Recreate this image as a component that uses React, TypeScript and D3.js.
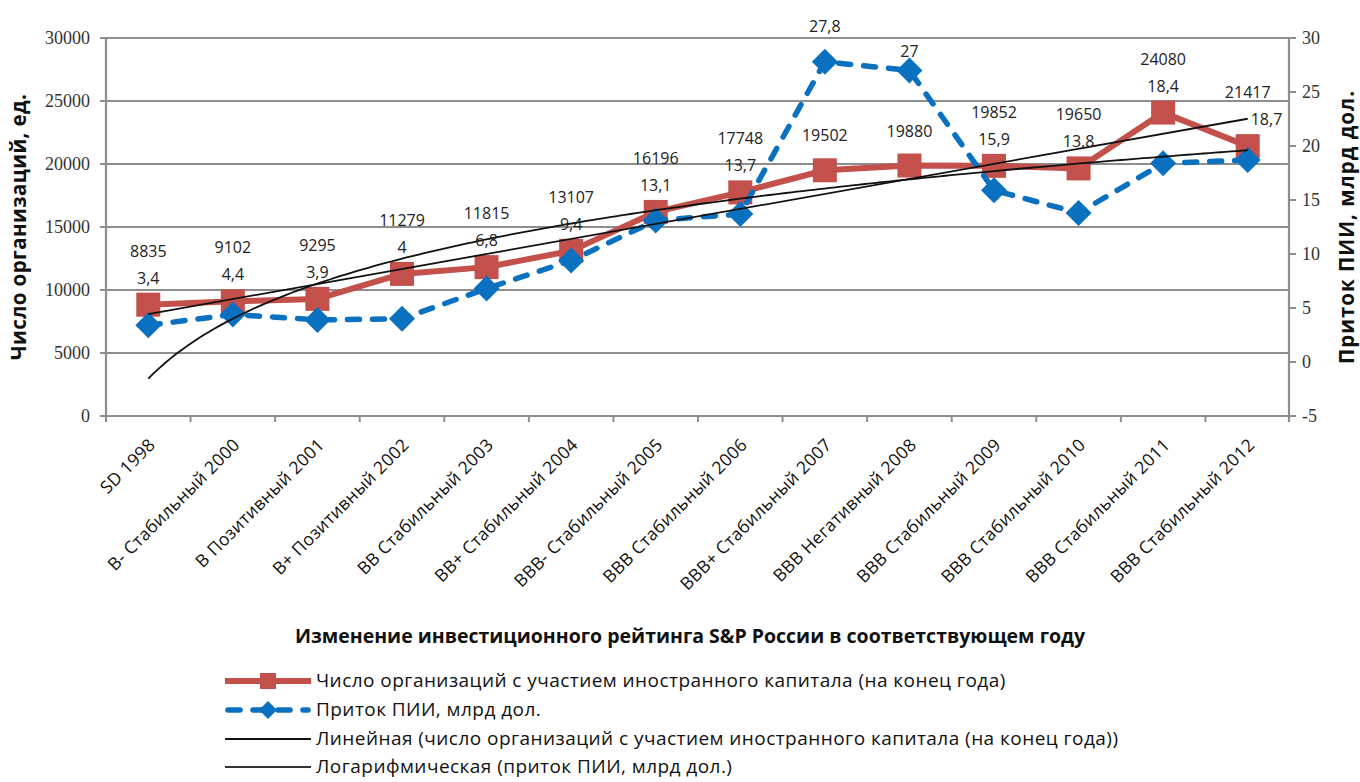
import React, { useMemo } from "react";
import * as d3 from "d3";

// Ratings of Russia by S&P (with year) on the category axis
const categories = [
  "SD 1998",
  "B- Стабильный 2000",
  "B Позитивный 2001",
  "B+ Позитивный 2002",
  "BB Стабильный 2003",
  "BB+ Стабильный 2004",
  "BBB- Стабильный 2005",
  "BBB Стабильный 2006",
  "BBB+ Стабильный 2007",
  "BBB Негативный 2008",
  "BBB Стабильный 2009",
  "BBB Стабильный 2010",
  "BBB Стабильный 2011",
  "BBB Стабильный 2012",
];

// Organizations with foreign capital at year end, units (left axis)
const organizations = [8835, 9102, 9295, 11279, 11815, 13107, 16196, 17748, 19502, 19880, 19852, 19650, 24080, 21417];

// FDI inflow, bn USD (right axis)
const fdiInflow = [3.4, 4.4, 3.9, 4, 6.8, 9.4, 13.1, 13.7, 27.8, 27, 15.9, 13.8, 18.4, 18.7];

const leftTicks = [0, 5000, 10000, 15000, 20000, 25000, 30000];
const rightTicks = [-5, 0, 5, 10, 15, 20, 25, 30];

const xTitle = "Изменение инвестиционного рейтинга S&P России в соответствующем году";
const leftTitle = "Число организаций, ед.";
const rightTitle = "Приток  ПИИ, млрд дол.";

const legendLabels = [
  "Число организаций с участием иностранного капитала (на конец года)",
  "Приток ПИИ, млрд дол.",
  "Линейная (число организаций с участием иностранного капитала (на конец года))",
  "Логарифмическая (приток ПИИ, млрд дол.)",
];

const W = 1360;
const H = 782;
const M = { left: 106, right: 1290, top: 38, bottom: 416 };

const RED = "#c4504b";
const BLUE = "#0a70c0";
const GRID = "#8e8e8e";
const SANS = "'Open Sans', 'Noto Sans', sans-serif";
const SERIF = "'Liberation Serif', 'DejaVu Serif', serif";

const fmtComma = (v: number) => String(v).replace(".", ",");

// ordinary least squares y = a + b*t
function ols(ts: number[], ys: number[]) {
  const mt = d3.mean(ts)!;
  const my = d3.mean(ys)!;
  let sxy = 0;
  let sxx = 0;
  ts.forEach((t, i) => {
    sxy += (t - mt) * (ys[i] - my);
    sxx += (t - mt) * (t - mt);
  });
  const b = sxy / sxx;
  return { a: my - b * mt, b };
}

export default function App() {
  const x = useMemo(
    () => d3.scaleBand<string>().domain(categories).range([M.left, M.right]).paddingInner(0).paddingOuter(0),
    []
  );
  const yL = useMemo(() => d3.scaleLinear().domain([0, 30000]).range([M.bottom, M.top]), []);
  const yR = useMemo(() => d3.scaleLinear().domain([-5, 30]).range([M.bottom, M.top]), []);
  const bw = x.bandwidth();
  const cx = (i: number) => x(categories[i])! + bw / 2;
  // position of category index t (1-based, fractional allowed)
  const tx = d3.scaleLinear().domain([1, categories.length]).range([cx(0), cx(categories.length - 1)]);

  const idx = categories.map((_, i) => i + 1);
  const lin = ols(idx, organizations);
  const lg = ols(idx.map((t) => Math.log(t)), fdiInflow);

  const redLine = d3
    .line<number>()
    .x((_, i) => cx(i))
    .y((d) => yL(d))(organizations)!;
  const blueLine = d3
    .line<number>()
    .x((_, i) => cx(i))
    .y((d) => yR(d))(fdiInflow)!;

  const linTrend = d3
    .line<number>()
    .x((t) => tx(t))
    .y((t) => yL(lin.a + lin.b * t))([1, categories.length])!;
  const logSamples = d3.range(0, 201).map((k) => 1 + (k / 200) * (categories.length - 1));
  const logTrend = d3
    .line<number>()
    .x((t) => tx(t))
    .y((t) => yR(lg.a + lg.b * Math.log(t)))(logSamples)!;

  const sq = 24;
  const dm = 13;
  const diamond = (px: number, py: number, r: number) =>
    `M${px},${py - r}L${px + r},${py}L${px},${py + r}L${px - r},${py}Z`;

  // data label placement
  const labels = organizations.map((v, i) => {
    const ry = yL(v);
    const by = yR(fdiInflow[i]);
    const last = i === categories.length - 1;
    if (by < ry - 30) {
      // FDI point well above the organizations point: label sits just above the diamond,
      // or above the plot frame when it would collide with the top gridline
      const above = by - 19;
      return { rY: ry - 35, bY: above < M.top + 8 ? M.top - 12 : above, bX: cx(i), bAnchor: "middle" };
    }
    const rY = ry - 54;
    if (last) return { rY, bY: by - 41, bX: cx(i) + 3, bAnchor: "start" };
    return { rY, bY: rY + 27, bX: cx(i), bAnchor: "middle" };
  });

  const legendY = [681, 710, 739, 767];
  const lgX0 = 225;
  const lgX1 = 311;
  const lgMid = (lgX0 + lgX1) / 2;
  const dash = "12 13";

  return (
    <svg
      width={W}
      height={H}
      viewBox={`0 0 ${W} ${H}`}
      style={{ position: "absolute", left: 0, top: 0, background: "#fff", display: "block" }}
    >
      <rect x={0} y={0} width={W} height={H} fill="#fff" />

      {/* horizontal gridlines with outer ticks */}
      {leftTicks.map((t) => (
        <line key={`g${t}`} x1={M.left - 6} x2={M.right} y1={yL(t)} y2={yL(t)} stroke={GRID} strokeWidth={2.2} />
      ))}
      {/* vertical axis lines */}
      <line x1={M.left} x2={M.left} y1={M.top} y2={M.bottom + 6} stroke={GRID} strokeWidth={2.2} />
      <line x1={M.right - 1} x2={M.right - 1} y1={M.top} y2={M.bottom + 6} stroke={GRID} strokeWidth={2.2} />
      {/* category ticks */}
      {categories.slice(1).map((c) => (
        <line key={`xt${c}${x(c)}`} x1={x(c)!} x2={x(c)!} y1={M.bottom} y2={M.bottom + 6} stroke={GRID} strokeWidth={2} />
      ))}
      {/* right axis ticks */}
      {rightTicks.map((t) => (
        <line key={`rt${t}`} x1={M.right - 1} x2={M.right + 6} y1={yR(t)} y2={yR(t)} stroke={GRID} strokeWidth={2} />
      ))}

      {/* left tick labels */}
      {leftTicks.map((t) => (
        <text key={`lt${t}`} x={90} y={yL(t) + 6} textAnchor="end" fontFamily={SERIF} fontSize={18} fill="#333">
          {t}
        </text>
      ))}
      {/* right tick labels */}
      {rightTicks.map((t) => (
        <text key={`rl${t}`} x={1302} y={yR(t) + 6} textAnchor="start" fontFamily={SERIF} fontSize={18} fill="#333">
          {t}
        </text>
      ))}

      {/* category labels */}
      {categories.map((c, i) => (
        <text
          key={`cl${i}`}
          transform={`translate(${cx(i) + 8},${446}) rotate(-45)`}
          textAnchor="end"
          fontFamily={SANS}
          fontSize={17.5}
          letterSpacing={0.3}
          fill="#111"
        >
          {c}
        </text>
      ))}

      {/* axis titles */}
      <text
        transform={`translate(${26},${227}) rotate(-90)`}
        textAnchor="middle"
        fontFamily={SANS}
        fontWeight={700}
        fontSize={20.5}
        letterSpacing={0.4}
        fill="#111"
      >
        {leftTitle}
      </text>
      <text
        transform={`translate(${1354},${227}) rotate(-90)`}
        textAnchor="middle"
        fontFamily={SANS}
        fontWeight={700}
        fontSize={20.5}
        letterSpacing={1}
        fill="#111"
      >
        {rightTitle}
      </text>
      <text x={690} y={643} textAnchor="middle" fontFamily={SANS} fontWeight={700} fontSize={19.5} fill="#111">
        {xTitle}
      </text>

      {/* organizations series */}
      <path d={redLine} fill="none" stroke={RED} strokeWidth={6} strokeLinejoin="round" />
      {organizations.map((v, i) => (
        <rect key={`sq${i}`} x={cx(i) - sq / 2} y={yL(v) - sq / 2} width={sq} height={sq} fill={RED} />
      ))}

      {/* FDI series */}
      <path
        d={blueLine}
        fill="none"
        stroke={BLUE}
        strokeWidth={5.5}
        strokeDasharray={dash}
        strokeLinecap="round"
        strokeLinejoin="round"
      />
      {fdiInflow.map((v, i) => (
        <path key={`dm${i}`} d={diamond(cx(i), yR(v), dm)} fill={BLUE} />
      ))}

      {/* trendlines */}
      <path d={linTrend} fill="none" stroke="#111" strokeWidth={1.8} />
      <path d={logTrend} fill="none" stroke="#111" strokeWidth={1.8} />

      {/* data labels */}
      {organizations.map((v, i) => (
        <text key={`rv${i}`} x={cx(i)} y={labels[i].rY + 6} textAnchor="middle" fontFamily={SANS} fontSize={16} fill="#222">
          {v}
        </text>
      ))}
      {fdiInflow.map((v, i) => (
        <text
          key={`bv${i}`}
          x={labels[i].bX}
          y={labels[i].bY + 6}
          textAnchor={labels[i].bAnchor as any}
          fontFamily={SANS}
          fontSize={16}
          fill="#222"
        >
          {fmtComma(v)}
        </text>
      ))}

      {/* legend */}
      <line x1={lgX0} x2={lgX1} y1={legendY[0]} y2={legendY[0]} stroke={RED} strokeWidth={6} />
      <rect x={lgMid - 8} y={legendY[0] - 8} width={16} height={16} fill={RED} />
      <line
        x1={lgX0 + 3}
        x2={lgX1 - 3}
        y1={legendY[1]}
        y2={legendY[1]}
        stroke={BLUE}
        strokeWidth={5.5}
        strokeDasharray={dash}
        strokeLinecap="round"
      />
      <path d={diamond(lgMid, legendY[1], 9)} fill={BLUE} />
      <line x1={lgX0} x2={lgX1} y1={legendY[2]} y2={legendY[2]} stroke="#111" strokeWidth={2} />
      <line x1={lgX0} x2={lgX1} y1={legendY[3]} y2={legendY[3]} stroke="#333" strokeWidth={2} />
      {legendLabels.map((s, i) => (
        <text
          key={`lg${i}`}
          x={316}
          y={legendY[i] + 6}
          fontFamily={SANS}
          fontSize={19}
          letterSpacing={0.45}
          fill="#111"
        >
          {s}
        </text>
      ))}
    </svg>
  );
}
